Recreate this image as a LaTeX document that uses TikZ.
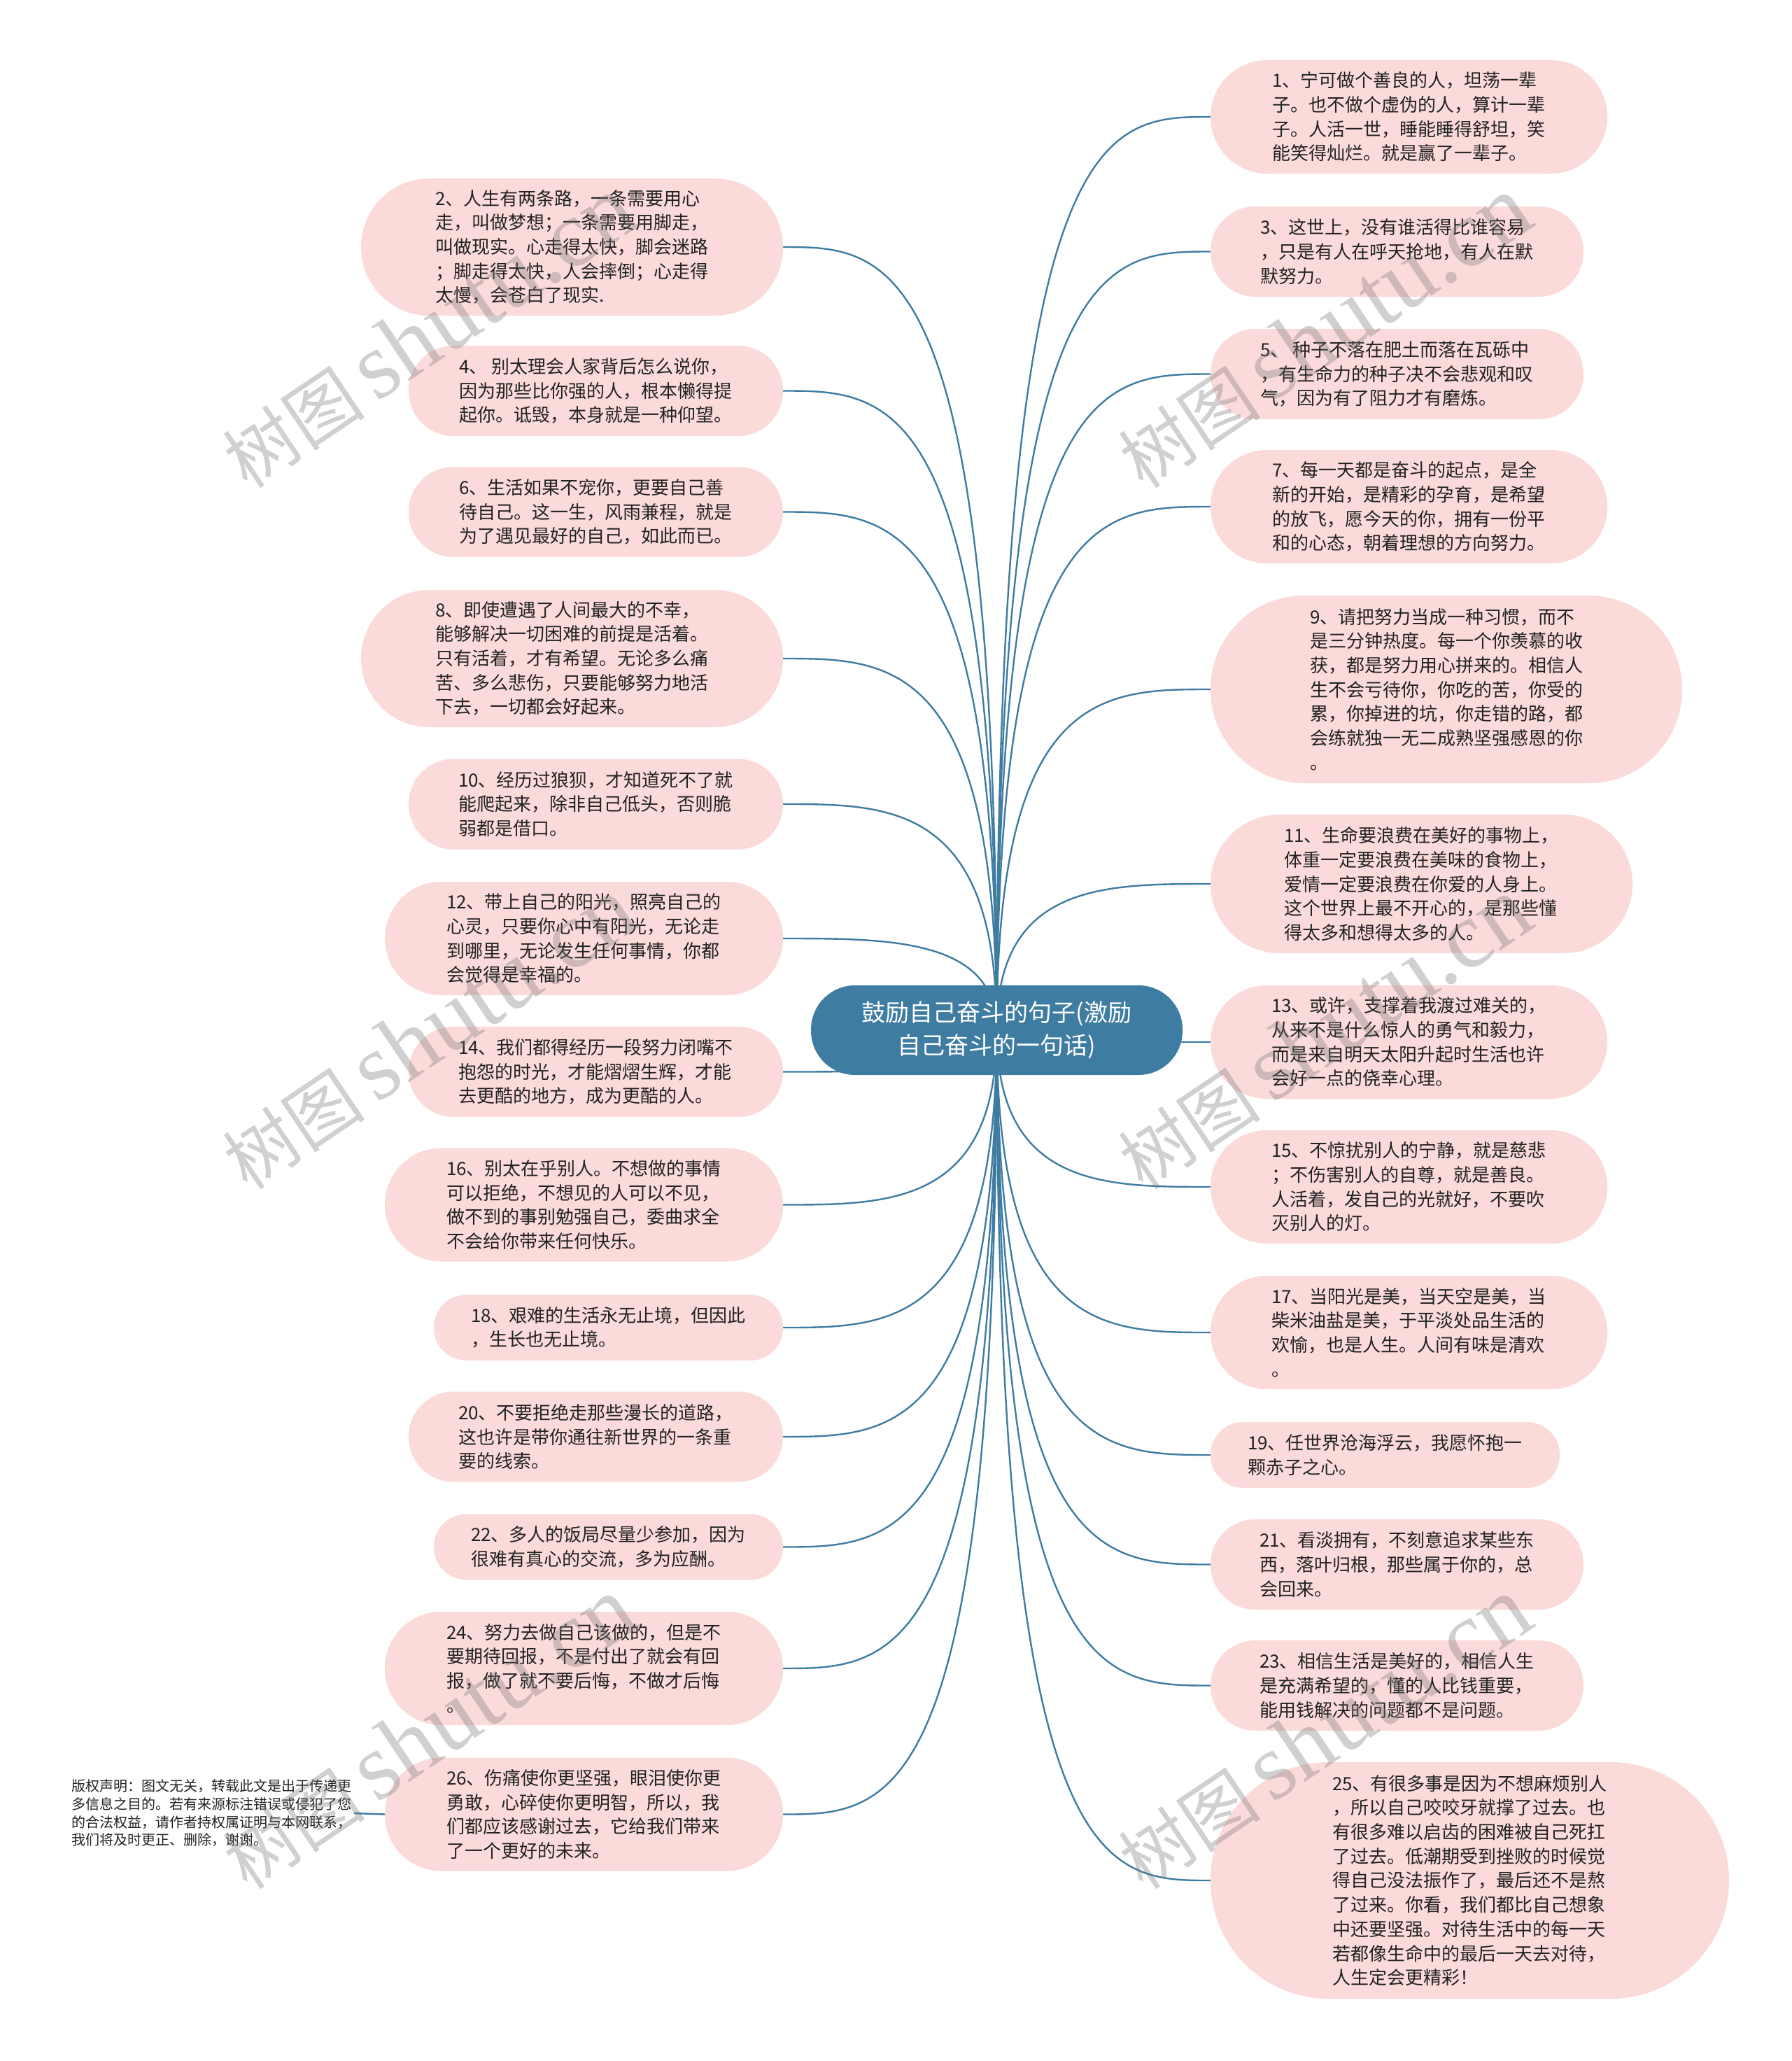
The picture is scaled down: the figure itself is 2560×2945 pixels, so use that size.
\documentclass[tikz,border=0pt]{standalone}
\usepackage{fontspec}
\setmainfont{Noto Sans CJK SC}
\newfontfamily\wmserif{Liberation Serif}
\usetikzlibrary{backgrounds,calc}
\definecolor{pillfill}{HTML}{FBDADA}
\definecolor{mainblue}{HTML}{3F7CA2}
\definecolor{txt}{HTML}{222222}
\tikzset{
  pill/.style 2 args={draw=none, fill=pillfill, text=txt, align=left, inner sep=0pt,
    minimum width=#1pt, minimum height=#2pt, rounded corners=#2pt/2-0.5pt,
    font=\fontsize{26}{34.7}\selectfont},
  rootbox/.style={draw=none, fill=mainblue, text=white, align=center, inner sep=0pt,
    minimum width=531pt, minimum height=128pt, rounded corners=63pt,
    font=\fontsize{34}{47}\selectfont},
  edge/.style={draw=mainblue, line width=2.4pt},
  wm/.style={text=black!55, opacity=0.33, anchor=base west, rotate=34,
    font=\fontsize{102}{102}\selectfont},
  note/.style={text=txt, align=left, inner sep=0pt, font=\fontsize{20}{25.7}\selectfont}
}
\begin{document}
\begin{tikzpicture}[x=1pt,y=-1pt]
\useasboundingbox (0,0) rectangle (2560,2945);
% root
\node[rootbox] (c) at (1424.5,1472) {鼓励自己奋斗的句子(激励\\自己奋斗的一句话)};
% left
\node[pill={603}{196}] (n2) at (817.5,353) {2、人生有两条路，一条需要用心\\走，叫做梦想；一条需要用脚走，\\叫做现实。心走得太快，脚会迷路\\；脚走得太快，人会摔倒；心走得\\太慢，会苍白了现实.};
\node[pill={535}{129}] (n4) at (851.5,558.5) {4、 别太理会人家背后怎么说你，\\因为那些比你强的人，根本懒得提\\起你。诋毁，本身就是一种仰望。};
\node[pill={535}{129}] (n6) at (851.5,731.5) {6、生活如果不宠你，更要自己善\\待自己。这一生，风雨兼程，就是\\为了遇见最好的自己，如此而已。};
\node[pill={603}{196}] (n8) at (817.5,941) {8、即使遭遇了人间最大的不幸，\\能够解决一切困难的前提是活着。\\只有活着，才有希望。无论多么痛\\苦、多么悲伤，只要能够努力地活\\下去，一切都会好起来。};
\node[pill={535}{129}] (n10) at (851.5,1149) {10、经历过狼狈，才知道死不了就\\能爬起来，除非自己低头，否则脆\\弱都是借口。};
\node[pill={569}{162}] (n12) at (834.5,1341) {12、带上自己的阳光，照亮自己的\\心灵，只要你心中有阳光，无论走\\到哪里，无论发生任何事情，你都\\会觉得是幸福的。};
\node[pill={535}{129}] (n14) at (851.5,1531.5) {14、我们都得经历一段努力闭嘴不\\抱怨的时光，才能熠熠生辉，才能\\去更酷的地方，成为更酷的人。};
\node[pill={569}{162}] (n16) at (834.5,1721.5) {16、别太在乎别人。不想做的事情\\可以拒绝，不想见的人可以不见，\\做不到的事别勉强自己，委曲求全\\不会给你带来任何快乐。};
\node[pill={499}{94}] (n18) at (869.5,1897) {18、艰难的生活永无止境，但因此\\，生长也无止境。};
\node[pill={535}{129}] (n20) at (851.5,2053) {20、不要拒绝走那些漫长的道路，\\这也许是带你通往新世界的一条重\\要的线索。};
\node[pill={499}{94}] (n22) at (869.5,2210.5) {22、多人的饭局尽量少参加，因为\\很难有真心的交流，多为应酬。};
\node[pill={569}{162}] (n24) at (834.5,2384) {24、努力去做自己该做的，但是不\\要期待回报，不是付出了就会有回\\报，做了就不要后悔，不做才后悔\\。};
\node[pill={569}{162}] (n26) at (834.5,2592.5) {26、伤痛使你更坚强，眼泪使你更\\勇敢，心碎使你更明智，所以，我\\们都应该感谢过去，它给我们带来\\了一个更好的未来。};
% right
\node[pill={567}{162}] (n1) at (2013.5,167) {1、宁可做个善良的人，坦荡一辈\\子。也不做个虚伪的人，算计一辈\\子。人活一世，睡能睡得舒坦，笑\\能笑得灿烂。就是赢了一辈子。};
\node[pill={533}{129}] (n3) at (1996.5,359.5) {3、这世上，没有谁活得比谁容易\\，只是有人在呼天抢地，有人在默\\默努力。};
\node[pill={533}{129}] (n5) at (1996.5,534.5) {5、 种子不落在肥土而落在瓦砾中\\，有生命力的种子决不会悲观和叹\\气，因为有了阻力才有磨炼。};
\node[pill={567}{162}] (n7) at (2013.5,724) {7、每一天都是奋斗的起点，是全\\新的开始，是精彩的孕育，是希望\\的放飞，愿今天的你，拥有一份平\\和的心态，朝着理想的方向努力。};
\node[pill={674}{268}] (n9) at (2067,985) {9、请把努力当成一种习惯，而不\\是三分钟热度。每一个你羡慕的收\\获，都是努力用心拼来的。相信人\\生不会亏待你，你吃的苦，你受的\\累，你掉进的坑，你走错的路，都\\会练就独一无二成熟坚强感恩的你\\。};
\node[pill={603}{198}] (n11) at (2031.5,1263) {11、生命要浪费在美好的事物上，\\体重一定要浪费在美味的食物上，\\爱情一定要浪费在你爱的人身上。\\这个世界上最不开心的，是那些懂\\得太多和想得太多的人。};
\node[pill={567}{162}] (n13) at (2013.5,1489) {13、或许，支撑着我渡过难关的，\\从来不是什么惊人的勇气和毅力，\\而是来自明天太阳升起时生活也许\\会好一点的侥幸心理。};
\node[pill={567}{162}] (n15) at (2013.5,1696) {15、不惊扰别人的宁静，就是慈悲\\；不伤害别人的自尊，就是善良。\\人活着，发自己的光就好，不要吹\\灭别人的灯。};
\node[pill={567}{162}] (n17) at (2013.5,1904) {17、当阳光是美，当天空是美，当\\柴米油盐是美，于平淡处品生活的\\欢愉，也是人生。人间有味是清欢\\。};
\node[pill={499}{94}] (n19) at (1979.5,2079) {19、任世界沧海浮云，我愿怀抱一\\颗赤子之心。};
\node[pill={533}{129}] (n21) at (1996.5,2235.5) {21、看淡拥有，不刻意追求某些东\\西，落叶归根，那些属于你的，总\\会回来。};
\node[pill={533}{129}] (n23) at (1996.5,2408.5) {23、相信生活是美好的，相信人生\\是充满希望的，懂的人比钱重要，\\能用钱解决的问题都不是问题。};
\node[pill={741}{338}] (n25) at (2100.5,2687) {25、有很多事是因为不想麻烦别人\\，所以自己咬咬牙就撑了过去。也\\有很多难以启齿的困难被自己死扛\\了过去。低潮期受到挫败的时候觉\\得自己没法振作了，最后还不是熬\\了过来。你看，我们都比自己想象\\中还要坚强。对待生活中的每一天\\若都像生命中的最后一天去对待，\\人生定会更精彩！};
% copyright note
\node[note] (cr) at (302,2591) {版权声明：图文无关，转载此文是出于传递更\\多信息之目的。若有来源标注错误或侵犯了您\\的合法权益，请作者持权属证明与本网联系，\\我们将及时更正、删除，谢谢。};
% connectors
\begin{scope}[on background layer]
  \fill[white] (0,0) rectangle (2560,2945);
  \foreach \n in {n2,n4,n6,n8,n10,n12,n14,n16,n18,n20,n22,n24,n26} {
    \draw[edge] (c.center) .. controls (c.center |- \n.east) and ($(c.center |- \n.east)!0.5!(\n.east)$) .. (\n.east);
  }
  \foreach \n in {n1,n3,n5,n7,n9,n11,n13,n15,n17,n19,n21,n23,n25} {
    \draw[edge] (c.center) .. controls (c.center |- \n.west) and ($(c.center |- \n.west)!0.5!(\n.west)$) .. (\n.west);
  }
  \draw[edge] (cr.east) ++(4,0) -- (n26.west);
\end{scope}
% watermarks
\foreach \wx/\wy/\k in {352/702/a,1632/702/b,352/1704/c,1632/1704/d,352/2704/e,1632/2704/f} {
  \node[wm] (wm\k) at (\wx,\wy) {树图\hspace{18pt}{\wmserif\fontsize{136}{136}\selectfont shutu.cn}};
}
\end{tikzpicture}
\end{document}
